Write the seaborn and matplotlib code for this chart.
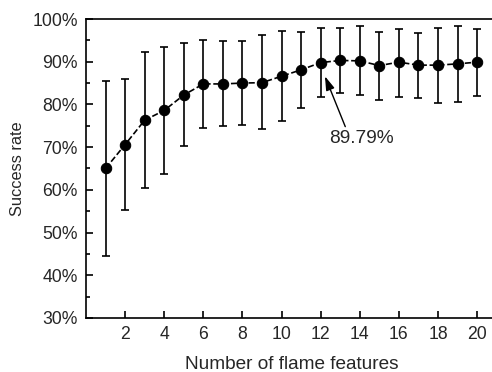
import matplotlib
matplotlib.use("Agg")
import matplotlib.pyplot as plt
import seaborn as sns
import pandas as pd
from matplotlib.ticker import MultipleLocator, FuncFormatter

features = list(range(1, 21))
success = [65.0, 70.6, 76.3, 78.6, 82.2, 84.8, 84.8, 85.0, 85.1, 86.6,
           88.1, 89.79, 90.3, 90.2, 89.1, 89.9, 89.2, 89.2, 89.5, 89.9]
upper = [85.5, 85.9, 92.3, 93.4, 94.3, 95.2, 94.9, 94.9, 96.2, 97.3,
         97.0, 97.9, 98.0, 98.3, 97.0, 97.7, 96.7, 98.0, 98.3, 97.7]
lower = [44.4, 55.3, 60.4, 63.8, 70.3, 74.5, 74.9, 75.2, 74.3, 76.2,
         79.1, 81.8, 82.6, 82.1, 81.1, 81.8, 81.5, 80.4, 80.5, 81.9]
label_text = "89.79%"

df = pd.DataFrame({"n": features, "rate": success, "hi": upper, "lo": lower})

sns.set_style("ticks")
plt.rcParams["font.family"] = ["Liberation Sans", "DejaVu Sans"]

fig = plt.figure(figsize=(4.92, 3.72), dpi=100)
ax = fig.add_axes([0.1748, 0.1452, 1.0094 - 0.1748, 0.9489 - 0.1452])

yerr = [df["rate"] - df["lo"], df["hi"] - df["rate"]]
ax.errorbar(df["n"], df["rate"], yerr=yerr, fmt="none", ecolor="black",
            elinewidth=1.2, capsize=3, capthick=1.2, zorder=2)
sns.lineplot(data=df, x="n", y="rate", ax=ax, color="black", linestyle="--",
             linewidth=1.2, marker="o", markersize=7.5, markeredgecolor="black",
             markerfacecolor="black", zorder=3)

ax.text(14.1, 72.1, label_text, ha="center", va="center", fontsize=13.8)
ax.annotate("", xy=(12.22, 86.6), xytext=(13.26, 74.8),
            arrowprops=dict(arrowstyle="-|>,head_length=0.7,head_width=0.22",
                            color="black", lw=1.0,
                            mutation_scale=12, shrinkA=0, shrinkB=0))

ax.set_xlim(0, 21)
ax.set_ylim(30, 100)
ax.set_xticks(range(2, 21, 2))
ax.yaxis.set_major_locator(MultipleLocator(10))
ax.yaxis.set_minor_locator(MultipleLocator(5))
ax.yaxis.set_major_formatter(FuncFormatter(lambda v, p: f"{int(v)}%"))
ax.tick_params(axis="both", which="both", direction="in", labelsize=12.7,
               width=1.2, color="black")
ax.tick_params(axis="y", which="major", length=5, pad=6)
ax.tick_params(axis="x", which="major", length=5, pad=6)
ax.tick_params(axis="y", which="minor", length=3)
for s in ax.spines.values():
    s.set_linewidth(1.2)
    s.set_color("black")
ax.set_xlabel("Number of flame features", fontsize=13.7, labelpad=9)
ax.set_ylabel("Success rate", fontsize=11.8, labelpad=5)

fig.savefig("out.png", dpi=100)
